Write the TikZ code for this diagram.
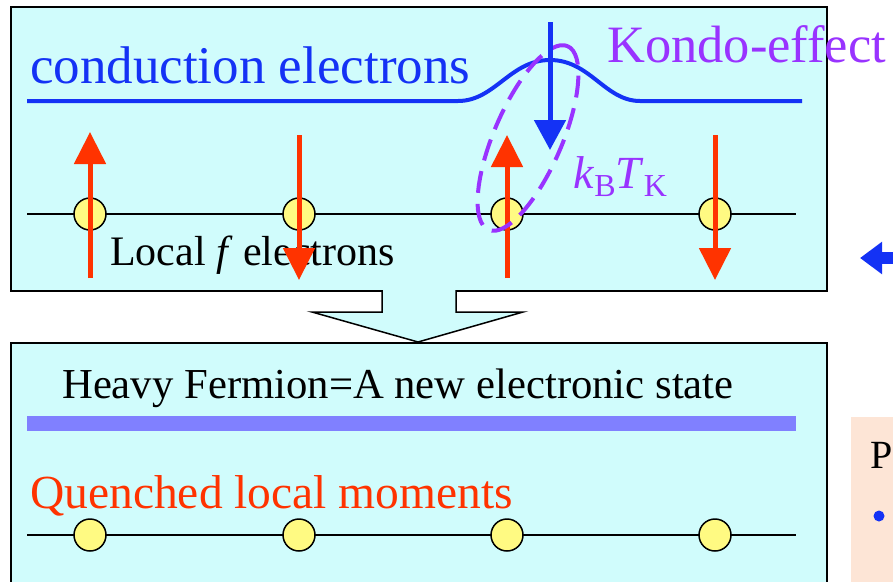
\documentclass[tikz,border=0pt]{standalone}
\usepackage{fontspec}
\setmainfont{Liberation Serif}
\usetikzlibrary{arrows.meta}
\definecolor{boxcyan}{RGB}{208,252,252}
\definecolor{eblue}{RGB}{20,50,245}
\definecolor{spinred}{RGB}{255,51,0}
\definecolor{kondo}{RGB}{153,51,255}
\definecolor{siteyellow}{RGB}{255,250,130}
\definecolor{bandblue}{RGB}{128,128,255}
\definecolor{peach}{RGB}{253,229,214}
\begin{document}
\begin{tikzpicture}
[
    x=1pt, y=-1pt,
    panel/.style={draw, line width=2pt, fill=boxcyan},
    site/.style={draw, circle, fill=siteyellow, line width=1.5pt, minimum size=32pt, inner sep=0pt},
    spin/.style={spinred, line width=5pt, -{Triangle[length=32pt,width=31pt]}},
    txt/.style={anchor=base west, inner sep=0pt}
]
    \useasboundingbox (0,0) rectangle (893,581);

    % panels and side bits
    \fill[peach] (851,417) rectangle (900,590);
    \draw[panel] (11,7) rectangle (827,291);
    \draw[panel] (11,343) rectangle (827,595);
    \draw[line width=1.5pt, fill=boxcyan] (382,290) -- (382,312) -- (312,312) -- (418,342)
        -- (523,312) -- (456,312) -- (456,290);
    \draw[eblue, line width=12pt, -{Triangle[length=22pt,width=31pt]}] (900,258) -- (860,258);
    \node[txt, font=\fontsize{40}{44}\selectfont] (pnt) at (870,468) {P};
    \node[circle, fill=eblue, minimum size=11pt, inner sep=0pt] (bullet) at (879,516) {};

    % upper panel
    \node[txt, eblue, font=\fontsize{53}{60}\selectfont] (cond) at (30,83) {conduction electrons};
    \draw[eblue, line width=4pt] (27,101) -- (458,101) .. controls (495,101) and (510,60) .. (550,60)
        .. controls (590,60) and (605,101) .. (640,101) -- (802,101);
    \node[txt, font=\fontsize{42}{48}\selectfont] (local) at (110,265) {Local \textit{f} electrons};
    \draw[line width=1.5pt] (27,214) -- (796,214);
    \foreach \i/\x in {1/90,2/299,3/507,4/715}
        \node[site] (up\i) at (\x,214) {};
    \draw[spin] ([yshift=-64pt]up1.center) -- ([yshift=82pt]up1.center);
    \draw[spin] ([yshift=79pt]up2.center) -- ([yshift=-66pt]up2.center);
    \draw[spin] ([yshift=-64pt]up3.center) -- ([yshift=79pt]up3.center);
    \draw[spin] ([yshift=79pt]up4.center) -- ([yshift=-66pt]up4.center);
    \draw[kondo, line width=4pt, dash pattern=on 22pt off 11pt, rotate around={66.7:(528,138)}]
        (528,138) ellipse (100 and 34);
    \draw[eblue, line width=5pt, -{Triangle[length=30pt,width=31pt]}] (550,22) -- (550,150);
    \node[txt, kondo, font=\fontsize{52.5}{58}\selectfont] (effect) at (607,62) {Kondo-effect};
    \node[txt, kondo, font=\fontsize{46}{50}\selectfont] (tk) at (573,188)
        {\textit{k}\raisebox{-8pt}{\fontsize{32}{36}\selectfont B}\textit{T}\raisebox{-8pt}{\fontsize{32}{36}\selectfont K}};

    % lower panel
    \node[txt, font=\fontsize{42.7}{48}\selectfont] (heavy) at (62,398) {Heavy Fermion=A new electronic state};
    \fill[bandblue] (27,416) rectangle (796,431);
    \node[txt, spinred, font=\fontsize{47.5}{52}\selectfont] (quench) at (30,508) {Quenched local moments};
    \draw[line width=1.5pt] (27,535) -- (796,535);
    \foreach \i/\x in {1/90,2/299,3/507,4/715}
        \node[site] (down\i) at (\x,535) {};
\end{tikzpicture}
\end{document}
